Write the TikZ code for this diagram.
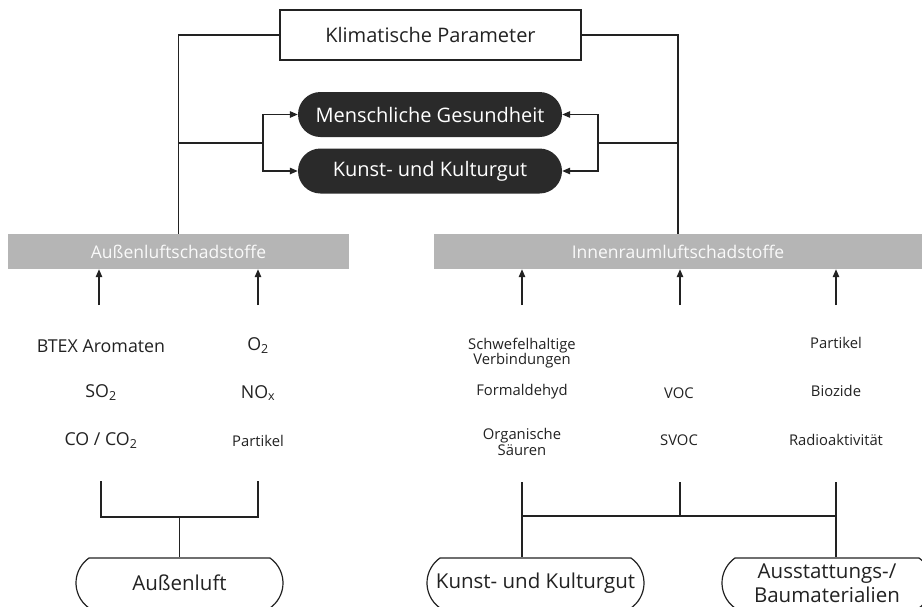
\documentclass[tikz,border=0pt]{standalone}
\usepackage{fontspec}
\setmainfont{Open Sans}
\usetikzlibrary{arrows.meta,shapes.misc}
\definecolor{ink}{HTML}{222222}
\definecolor{darkfill}{HTML}{2A2A2A}
\definecolor{barfill}{HTML}{B5B5B5}
\definecolor{bartext}{HTML}{FAFAFA}
\tikzset{
  conn/.style={draw=ink, line width=1.3pt},
  arr/.style={conn, -{Triangle[length=8pt,width=6.5pt]}},
  klimabox/.style={draw=ink, line width=1.2pt, minimum width=301pt, minimum height=50pt, inner sep=0pt, font=\fontsize{20}{22}\selectfont, text=ink},
  darkbox/.style={rounded rectangle, fill=darkfill, minimum width=264pt, minimum height=45pt, inner sep=0pt, text=white, font=\fontsize{20}{22}\selectfont},
  graybar/.style={fill=barfill, minimum height=35pt, inner sep=0pt, text=bartext, font=\fontsize{17.5}{19}\selectfont},
  bigitem/.style={text=ink, font=\fontsize{17.8}{19}\selectfont, inner sep=0pt},
  smallitem/.style={text=ink, font=\fontsize{14.8}{15.5}\selectfont, inner sep=0pt, align=center},
  srcbox/.style={rounded rectangle, rounded rectangle arc length=110, draw=ink, line width=1.2pt, minimum height=50pt, inner sep=0pt, text=ink, align=center, font=\fontsize{20.5}{24}\selectfont}
}
\begin{document}
\begin{tikzpicture}[x=1pt,y=-1pt]
\useasboundingbox (0,0) rectangle (922,606);
\clip (0,0) rectangle (922,606);
\fill[white] (0,0) rectangle (922,606);

% top
\node[klimabox] (kp) at (430.5,35) {Klimatische Parameter};
\node[darkbox] (mg) at (430,114.5) {Menschliche Gesundheit};
\node[darkbox] (kk) at (430,171) {Kunst- und Kulturgut};

% bars
\node[graybar, minimum width=341pt] (al) at (178.5,251.5) {Außenluftschadstoffe};
\node[graybar, minimum width=488pt] (il) at (678,251.5) {Innenraumluftschadstoffe};

\draw[conn] (kp.west) -| (al.north);
\draw[conn] (kp.east) -| (il.north);

\coordinate (lb) at (263,143);
\coordinate (rb) at (598,143);
\draw[conn] (lb -| al.north) -- (lb);
\draw[arr] (lb) |- (mg.west);
\draw[arr] (lb) |- (kk.west);
\draw[conn] (rb -| il.north) -- (rb);
\draw[arr] (rb) |- (mg.east);
\draw[arr] (rb) |- (kk.east);

% arrows into bars
\foreach \n/\x in {a1/99,a2/258} {
  \coordinate (\n) at (\x,305);
  \draw[arr] (\n) -- (\n |- al.south);
}
\foreach \n/\x in {a3/522,a4/680,a5/836} {
  \coordinate (\n) at (\x,305);
  \draw[arr] (\n) -- (\n |- il.south);
}

% left items
\node[bigitem] (btex) at (101,346) {BTEX Aromaten};
\node[bigitem] (o2) at (258,346) {O\textsubscript{2}};
\node[bigitem] (so2) at (101,393) {SO\textsubscript{2}};
\node[bigitem] (nox) at (258,393) {NO\textsubscript{x}};
\node[bigitem] (co) at (101,441) {CO / CO\textsubscript{2}};
\node[smallitem] (p1) at (258,441) {Partikel};

% right items
\node[smallitem] (sch) at (522,353) {Schwefelhaltige\\Verbindungen};
\node[smallitem] (p2) at (836,343) {Partikel};
\node[smallitem] (form) at (522,392) {Formaldehyd};
\node[smallitem] (voc) at (679,393) {VOC};
\node[smallitem] (bio) at (836,391) {Biozide};
\node[smallitem] (org) at (522,442) {Organische\\Säuren};
\node[smallitem] (svoc) at (679,440) {SVOC};
\node[smallitem] (rad) at (836,440) {Radioaktivität};

% source boxes
\node[srcbox, minimum width=207pt] (aussen) at (179.5,583) {Außenluft};
\node[srcbox, minimum width=217pt] (kb) at (535.5,583) {Kunst- und Kulturgut};
\node[srcbox, minimum width=210pt] (ab) at (827,583) {Ausstattungs-/\\Baumaterialien};

% left bracket
\coordinate (l1) at (101,481);
\coordinate (l2) at (258,481);
\coordinate (lj) at (179.5,517);
\draw[conn] (l1) -- (l1 |- lj) -- (l2 |- lj) -- (l2);
\draw[conn] (lj) -- (aussen.north);

% right bracket
\coordinate (r1) at (522,482);
\coordinate (r2) at (680,482);
\coordinate (r3) at (836,482);
\coordinate (rj) at (680,516);
\draw[conn] (r1) -- (r1 |- rj) -- (r3 |- rj) -- (r3);
\draw[conn] (r2) -- (rj);
\draw[conn] (r1 |- rj) -- (r1 |- kb.north);
\draw[conn] (r3 |- rj) -- (r3 |- ab.north);
\end{tikzpicture}
\end{document}
